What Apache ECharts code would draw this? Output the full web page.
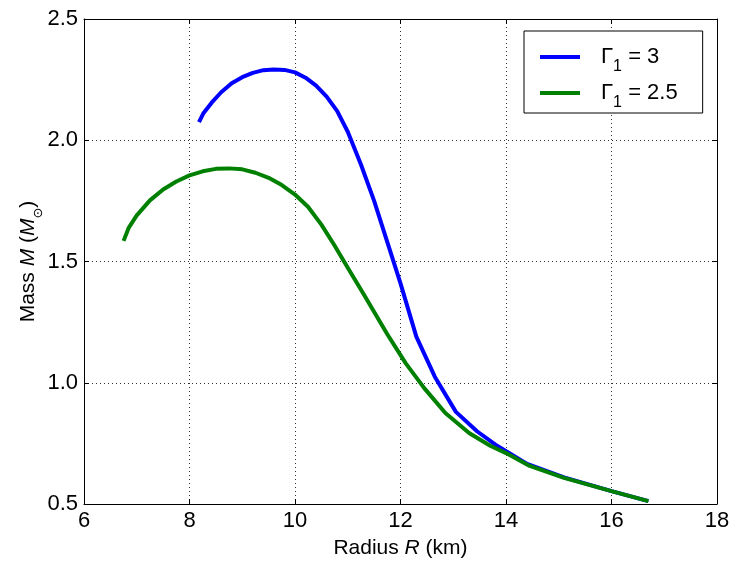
<!DOCTYPE html>
<html>
<head>
<meta charset="utf-8">
<script src="https://cdn.jsdelivr.net/npm/echarts@6/dist/echarts.min.js"></script>
<style>html,body{margin:0;padding:0;background:#fff}#c{width:734px;height:564px}</style>
</head>
<body>
<div id="c"></div>
<script>
const xTicks = [6, 8, 10, 12, 14, 16, 18];
const yTicks = [0.5, 1.0, 1.5, 2.0, 2.5];
const seriesNames = ['Γ1 = 3', 'Γ1 = 2.5'];

const radiusG3 = [8.18, 8.26, 8.42, 8.6, 8.8, 9.0, 9.2, 9.4, 9.6, 9.8, 10.0, 10.2, 10.4, 10.6, 10.8, 11.0, 11.25, 11.5, 11.75, 12.0, 12.3, 12.65, 13.05, 13.45, 13.8, 14.4, 15.1, 16.0, 16.7];
const massG3   = [2.075, 2.11, 2.155, 2.198, 2.235, 2.26, 2.278, 2.289, 2.292, 2.29, 2.28, 2.258, 2.225, 2.18, 2.12, 2.035, 1.90, 1.75, 1.58, 1.41, 1.19, 1.025, 0.88, 0.80, 0.745, 0.665, 0.61, 0.553, 0.512];

const radiusG25 = [6.75, 6.85, 7.0, 7.25, 7.5, 7.75, 8.0, 8.25, 8.5, 8.75, 9.0, 9.25, 9.5, 9.75, 10.0, 10.25, 10.5, 10.75, 11.0, 11.3, 11.75, 12.1, 12.45, 12.85, 13.3, 13.7, 14.0, 14.45, 15.1, 16.0, 16.7];
const massG25   = [1.585, 1.64, 1.69, 1.752, 1.797, 1.83, 1.855, 1.872, 1.882, 1.884, 1.88, 1.866, 1.845, 1.815, 1.776, 1.725, 1.652, 1.566, 1.474, 1.366, 1.2, 1.08, 0.978, 0.875, 0.793, 0.74, 0.71, 0.657, 0.608, 0.553, 0.512];

const FONT = 'Liberation Sans, Arial, sans-serif';
const pairs = (xs, ys) => xs.map((x, i) => [x, ys[i]]);

const chart = echarts.init(document.getElementById('c'), null, {renderer: 'canvas'});
const gridLine = {show: true, lineStyle: {color: '#000', type: [1, 3], width: 1, opacity: 0.8}};
chart.setOption({
  backgroundColor: '#fff',
  animation: false,
  grid: {left: 84, right: 17, top: 19, bottom: 56, containLabel: false},
  legend: {
    left: 524, top: 31,
    orient: 'vertical',
    backgroundColor: '#fff',
    borderColor: '#000', borderWidth: 1, borderRadius: 0,
    padding: [15, 25, 2, 16],
    itemWidth: 40, itemHeight: 4, itemGap: 7,
    icon: 'rect',
    data: seriesNames,
    formatter: name => {
      const parts = name.split(' = ');
      return '{g|Γ}{s|1}{g| = ' + parts[1] + '}';
    },
    textStyle: {
      padding: [0, 0, 0, 16],
      rich: {
        g: {fontFamily: FONT, fontSize: 22, color: '#000', lineHeight: 24},
        s: {fontFamily: FONT, fontSize: 16, color: '#000', verticalAlign: 'bottom', padding: [0, 0, -6, 0], lineHeight: 24}
      }
    }
  },
  xAxis: [{
    type: 'value', min: 6, max: 18, interval: 2,
    name: 'Radius {i|R} (km)', nameLocation: 'middle', nameGap: 34, nameMoveOverlap: false,
    nameTextStyle: {fontFamily: FONT, fontSize: 21, color: '#000', rich: {i: {fontFamily: FONT, fontSize: 21, fontStyle: 'italic', color: '#000'}}},
    axisLine: {show: true, onZero: false, lineStyle: {color: '#000', width: 1}},
    axisTick: {show: true, inside: true, length: 5, lineStyle: {color: '#000'}},
    axisLabel: {fontFamily: FONT, fontSize: 22, color: '#000', margin: 6},
    splitLine: gridLine
  }, {
    type: 'value', min: 6, max: 18, interval: 2, position: 'top',
    axisLine: {show: true, onZero: false, lineStyle: {color: '#000', width: 1}},
    axisTick: {show: true, inside: true, length: 5, lineStyle: {color: '#000'}},
    axisLabel: {show: false}, splitLine: {show: false}
  }],
  yAxis: [{
    type: 'value', min: 0.5, max: 2.5, interval: 0.5,
    name: 'Mass {i|M} ({i|M}{s|⊙})', nameLocation: 'middle', nameGap: 45, nameRotate: 90, nameMoveOverlap: false,
    nameTextStyle: {fontFamily: FONT, fontSize: 21, color: '#000', rich: {
      i: {fontFamily: FONT, fontSize: 21, fontStyle: 'italic', color: '#000'},
      s: {fontFamily: 'DejaVu Sans, sans-serif', fontSize: 13, color: '#000', verticalAlign: 'bottom', padding: [0, 0, -6, 0]}
    }},
    axisLine: {show: true, onZero: false, lineStyle: {color: '#000', width: 1}},
    axisTick: {show: true, inside: true, length: 5, lineStyle: {color: '#000'}},
    axisLabel: {fontFamily: FONT, fontSize: 22, color: '#000', margin: 6, formatter: v => v.toFixed(1)},
    splitLine: gridLine
  }, {
    type: 'value', min: 0.5, max: 2.5, interval: 0.5, position: 'right',
    axisLine: {show: true, onZero: false, lineStyle: {color: '#000', width: 1}},
    axisTick: {show: true, inside: true, length: 5, lineStyle: {color: '#000'}},
    axisLabel: {show: false}, splitLine: {show: false}
  }],
  series: [{
    name: seriesNames[0], type: 'line', data: pairs(radiusG3, massG3),
    symbol: 'none', smooth: false, color: '#0000ff',
    lineStyle: {color: '#0000ff', width: 4}, z: 3
  }, {
    name: seriesNames[1], type: 'line', data: pairs(radiusG25, massG25),
    symbol: 'none', smooth: false, color: '#008000',
    lineStyle: {color: '#008000', width: 4}, z: 4
  }]
});
</script>
</body>
</html>
